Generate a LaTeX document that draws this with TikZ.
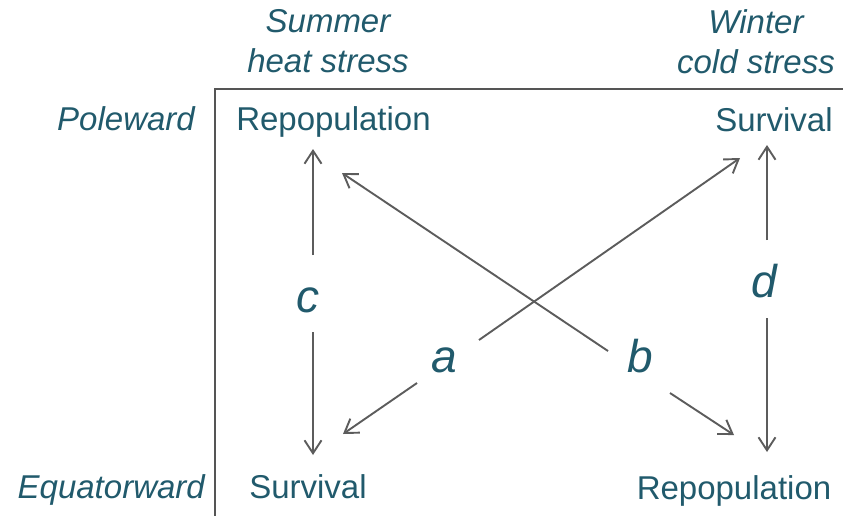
\documentclass[tikz,border=0pt]{standalone}
\usepackage{fontspec}
\setmainfont{Liberation Sans}
\usetikzlibrary{arrows.meta}
\definecolor{tealtxt}{RGB}{33,90,108}
\definecolor{arrgray}{RGB}{92,92,92}
\definecolor{axisgray}{RGB}{85,85,85}
\begin{document}
\begin{tikzpicture}[x=1pt,y=-1pt,
  lbl/.style={text=tealtxt, font=\fontsize{33}{40}\selectfont, inner sep=0pt, anchor=base},
  ilbl/.style={text=tealtxt, font=\fontsize{33}{40}\selectfont\itshape, inner sep=0pt},
  letter/.style={text=tealtxt, font=\fontsize{46}{50}\selectfont\itshape, inner sep=0pt, anchor=base},
  conn/.style={draw=arrgray, line width=1.9pt, -{Straight Barb[length=13pt,width=17pt,line width=1.9pt]}},
  axisline/.style={draw=axisgray, line width=2.4pt}]
\useasboundingbox (0,0) rectangle (843,515);

% axes
\coordinate (axtop) at (215,89);
\coordinate (axbot) at (215,516);
\coordinate (axright) at (844,89);
\draw[axisline] (axbot) -- (axtop) -- (axright);

% column headers
\node[ilbl, align=center, anchor=north] (summer) at (328,9.5) {Summer\\heat stress};
\node[ilbl, align=center, anchor=north] (winter) at (756,9.5) {Winter\\cold stress};

% row headers
\node[ilbl, anchor=base east] (pole) at (195,130) {Poleward};
\node[ilbl, anchor=base east] (equ) at (205,498) {Equatorward};

% corner texts
\node[lbl] (repTL) at (333.5,130) {Repopulation};
\node[lbl] (survTR) at (774,131) {Survival};
\node[lbl] (survBL) at (308,498) {Survival};
\node[lbl] (repBR) at (734,499) {Repopulation};

% letters
\node[letter] (lc) at (308,312) {c};
\node[letter] (la) at (444,372) {a};
\node[letter] (lb) at (640,372) {b};
\node[letter] (ld) at (764,297) {d};

% arrow end points
\coordinate (c1) at (313,255);
\coordinate (cT) at (313,149);
\coordinate (c2) at (313,332);
\coordinate (cB) at (313,455);

\coordinate (d1) at (767,240);
\coordinate (dT) at (767,145);
\coordinate (d2) at (767,318);
\coordinate (dB) at (767,452);

\coordinate (a1) at (479,340);
\coordinate (aT) at (740,158);
\coordinate (a2) at (417,383);
\coordinate (aB) at (343,434);

\coordinate (b1) at (608,351);
\coordinate (bT) at (342,173);
\coordinate (b2) at (670,393);
\coordinate (bB) at (734,435);

\draw[conn] (c1) -- (cT);
\draw[conn] (c2) -- (cB);
\draw[conn] (d1) -- (dT);
\draw[conn] (d2) -- (dB);
\draw[conn] (a1) -- (aT);
\draw[conn] (a2) -- (aB);
\draw[conn] (b1) -- (bT);
\draw[conn] (b2) -- (bB);
\end{tikzpicture}
\end{document}
